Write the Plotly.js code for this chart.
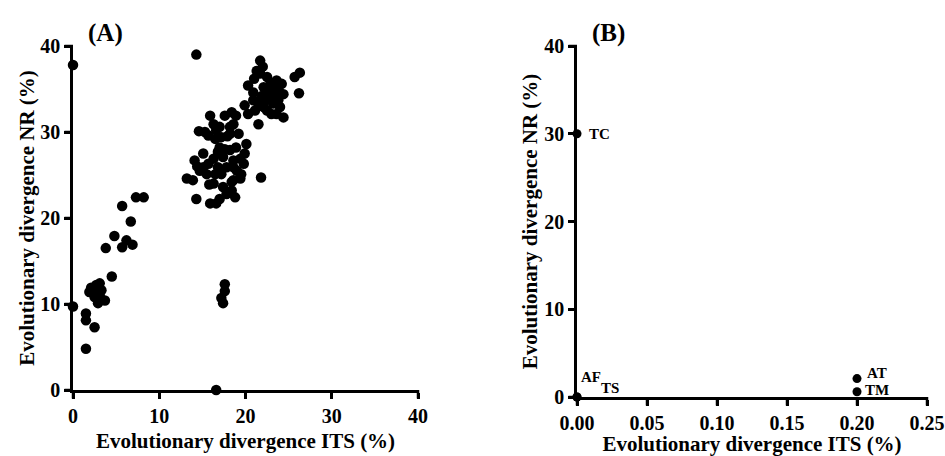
<!DOCTYPE html>
<html>
<head>
<meta charset="utf-8">
<script src="https://cdn.plot.ly/plotly-3.0.1.min.js"></script>
<style>html,body{margin:0;padding:0;background:#fff;}#chart{width:945px;height:456px;}.modebar-container{display:none !important;}</style>
</head>
<body>
<div id="chart"></div>
<script>
// Panel A: evolutionary divergence ITS (%) vs NR (%)
const itsA = [0, 0, 16.6, 14.3,
  1.5, 1.5, 1.5, 2.5, 1.9, 2.7, 3.1, 2.5, 2.9, 3.1, 3.7, 2.3, 4.5, 3.8, 4.8, 5.7, 5.7, 6.2, 6.7, 6.9, 7.3, 8.2, 2.1, 3.3,
  17.4, 17.2, 17.6, 17.6,
  13.2, 13.9, 14.3, 14.1, 15.1, 14.7, 15.9, 16.6, 17.0, 16.3, 15.5, 16.3, 16.8, 17.4, 17.8, 18.4, 18.6, 18.2, 18.9, 19.4, 19.9, 20.1, 19.5, 19.4, 18.8, 18.4, 17.4, 17.2, 17.8, 18.6, 19.0, 16.5, 15.7, 17.0, 16.8, 15.1, 18.6, 14.4, 15.8, 17.6, 19.8,
  14.6, 15.3, 15.9, 16.3, 16.6, 17.0, 16.5, 15.7, 17.2, 17.6, 18.4, 18.9, 19.2, 18.2, 18.6, 18.2, 17.9,
  21.7, 21.3, 21.7, 22.5, 20.3, 20.9, 22.1, 22.9, 23.6, 24.2, 24.4, 19.9, 20.3, 21.5, 21.5, 22.3, 22.5, 23.2, 23.8, 24.0, 24.4, 23.4, 22.9, 22.1, 20.9, 21.1, 23.0, 23.6, 22.7, 21.9, 23.2, 23.8, 21.0, 22.0,
  25.7, 26.3, 26.2, 21.8];
const nrA = [37.8, 9.7, 0, 39.0,
  8.9, 8.1, 4.8, 7.3, 11.4, 12.2, 12.4, 10.8, 10.1, 11.0, 10.4, 11.6, 13.2, 16.5, 17.9, 21.4, 16.6, 17.4, 19.6, 16.9, 22.4, 22.4, 11.9, 11.6,
  10.1, 10.7, 11.5, 12.3,
  24.6, 24.4, 22.2, 26.7, 27.5, 25.5, 21.7, 21.7, 22.2, 26.9, 25.1, 24.0, 25.9, 23.6, 22.8, 23.2, 24.4, 27.9, 28.2, 26.9, 27.5, 28.6, 25.1, 24.6, 22.4, 24.2, 27.1, 25.1, 25.9, 25.9, 25.5, 25.1, 26.3, 28.2, 27.7, 25.9, 26.7, 26.0, 23.9, 28.0, 26.3,
  30.1, 30.0, 31.9, 30.9, 30.2, 30.6, 29.2, 29.6, 29.4, 31.9, 32.3, 31.9, 29.8, 30.6, 30.9, 29.8, 29.5,
  38.3, 37.1, 36.8, 36.4, 35.4, 34.6, 35.2, 35.6, 36.0, 35.6, 34.4, 33.1, 32.1, 30.9, 33.3, 33.7, 32.5, 33.3, 33.7, 32.9, 31.7, 34.4, 34.0, 32.9, 33.7, 32.5, 32.1, 32.1, 34.8, 34.2, 35.0, 35.0, 36.2, 37.6,
  36.4, 36.9, 34.5, 24.7];

// Panel B: labelled taxa
const labelsB = ['TC', 'AF', 'TS', 'AT', 'TM'];
const itsB = [0, 0, 0, 0.2, 0.2];
const nrB = [30, 0, 0, 2.1, 0.6];

const xTicksA = [0, 10, 20, 30, 40];
const yTicks = [0, 10, 20, 30, 40];
const xTicksB = [0, 0.05, 0.10, 0.15, 0.20, 0.25];

(function () {
  var FONT = 'Liberation Serif, Times New Roman, serif';
  var tickFont = {family: FONT, size: 20, color: 'black'};
  var titleFont = {family: FONT, size: 21, color: 'black'};
  var LW = 2.5, TL = 6;
  function bold(s) { return '<b>' + s + '</b>'; }

  function axisBase(vals, fmt) {
    return {showline: true, linecolor: 'black', linewidth: LW, ticks: 'outside', ticklen: TL, tickwidth: LW,
            tickcolor: 'black', showgrid: false, zeroline: false, tickfont: tickFont,
            tickmode: 'array', tickvals: vals,
            ticktext: vals.map(function (v) { return bold(fmt ? v.toFixed(2) : String(v)); })};
  }

  // Axis lines and tick marks as filled rectangles placed on each axis domain
  function fillRect(extra) {
    return Object.assign({type: 'rect', fillcolor: 'black', line: {width: 0}, layer: 'above'}, extra);
  }
  function axisFrame(xId, yId, xt, yt, xr, yr) {
    var xd = xId + ' domain', yd = yId + ' domain';
    var s = [];
    // bottom axis line
    s.push(fillRect({xref: xd, yref: yd, x0: 0, x1: 1, ysizemode: 'pixel', yanchor: 0, y0: -LW, y1: 0}));
    // left axis line
    s.push(fillRect({xref: xd, yref: yd, y0: 0, y1: 1, xsizemode: 'pixel', xanchor: 0, x0: -LW, x1: 0}));
    // corner
    s.push(fillRect({xref: xd, yref: yd, xsizemode: 'pixel', xanchor: 0, x0: -LW, x1: 0,
      ysizemode: 'pixel', yanchor: 0, y0: -LW, y1: 0}));
    xt.forEach(function (v) {
      s.push(fillRect({xref: xd, yref: yd, xsizemode: 'pixel', xanchor: (v - xr[0]) / (xr[1] - xr[0]),
        x0: -LW / 2, x1: LW / 2, ysizemode: 'pixel', yanchor: 0, y0: -(LW + TL), y1: 0}));
    });
    yt.forEach(function (v) {
      s.push(fillRect({xref: xd, yref: yd, ysizemode: 'pixel', yanchor: (v - yr[0]) / (yr[1] - yr[0]),
        y0: -LW / 2, y1: LW / 2, xsizemode: 'pixel', xanchor: 0, x0: -(LW + TL), x1: 0}));
    });
    return s;
  }

  var figW = 945, figH = 456, mLeft = 0, mRight = 18, mTop = 46, mBot = 59;
  var plotW = figW - mLeft - mRight, plotH = figH - mTop - mBot;
  var rangeXA = [0, 40], rangeY = [0, 40], rangeXB = [0, 0.25];

  var data = [
    {x: itsA, y: nrA, type: 'scatter', mode: 'markers', xaxis: 'x', yaxis: 'y', cliponaxis: false,
     marker: {color: 'black', size: 10.5}, hoverinfo: 'x+y'},
    {x: itsB, y: nrB, text: labelsB, type: 'scatter', mode: 'markers', xaxis: 'x2', yaxis: 'y2', cliponaxis: false,
     marker: {color: 'black', size: 9}, hoverinfo: 'text+x+y'}
  ];

  var labelShift = {TC: [22, 0], AF: [14, 20], TS: [33, 9], AT: [20, 6], TM: [20, 2]};
  var annotations = labelsB.map(function (t, i) {
    return {x: itsB[i], y: nrB[i], xref: 'x2', yref: 'y2', text: bold(t), showarrow: false,
      xanchor: 'center', yanchor: 'middle', xshift: labelShift[t][0], yshift: labelShift[t][1],
      font: {family: FONT, size: 15, color: 'black'}};
  });
  function paperAnn(text, px, py) {
    return {x: (px - mLeft) / plotW, y: (figH - py - mBot) / plotH, xref: 'paper', yref: 'paper', text: bold(text),
      showarrow: false, xanchor: 'center', yanchor: 'middle', font: {family: FONT, size: 25, color: 'black'}};
  }
  annotations.push(paperAnn('(A)', 105, 33));
  annotations.push(paperAnn('(B)', 608, 33));

  var shapes = axisFrame('x', 'y', xTicksA, yTicks, rangeXA, rangeY)
    .concat(axisFrame('x2', 'y2', xTicksB, yTicks, rangeXB, rangeY));

  var fig = {
    width: figW, height: figH, margin: {l: mLeft, r: mRight, t: mTop, b: mBot},
    showlegend: false,
    xaxis: Object.assign(axisBase(xTicksA), {domain: [73 / plotW, 418 / plotW], anchor: 'y', range: rangeXA,
      title: {text: bold('Evolutionary divergence ITS (%)'), font: titleFont, standoff: 8}}),
    yaxis: Object.assign(axisBase(yTicks), {domain: [(397 - 390) / plotH, 1], anchor: 'x', range: rangeY,
      title: {text: bold('Evolutionary divergence NR (%)'), font: titleFont, standoff: 0}}),
    xaxis2: Object.assign(axisBase(xTicksB, true), {domain: [577 / plotW, 1], anchor: 'y2', range: rangeXB,
      title: {text: bold('Evolutionary divergence ITS (%)'), font: titleFont, standoff: 19}}),
    yaxis2: Object.assign(axisBase(yTicks), {domain: [0, 1], anchor: 'x2', range: rangeY,
      title: {text: bold('Evolutionary divergence NR (%)'), font: titleFont, standoff: 1}}),
    shapes: shapes,
    annotations: annotations
  };

  Plotly.newPlot('chart', data, fig);
})();
</script>
</body>
</html>
